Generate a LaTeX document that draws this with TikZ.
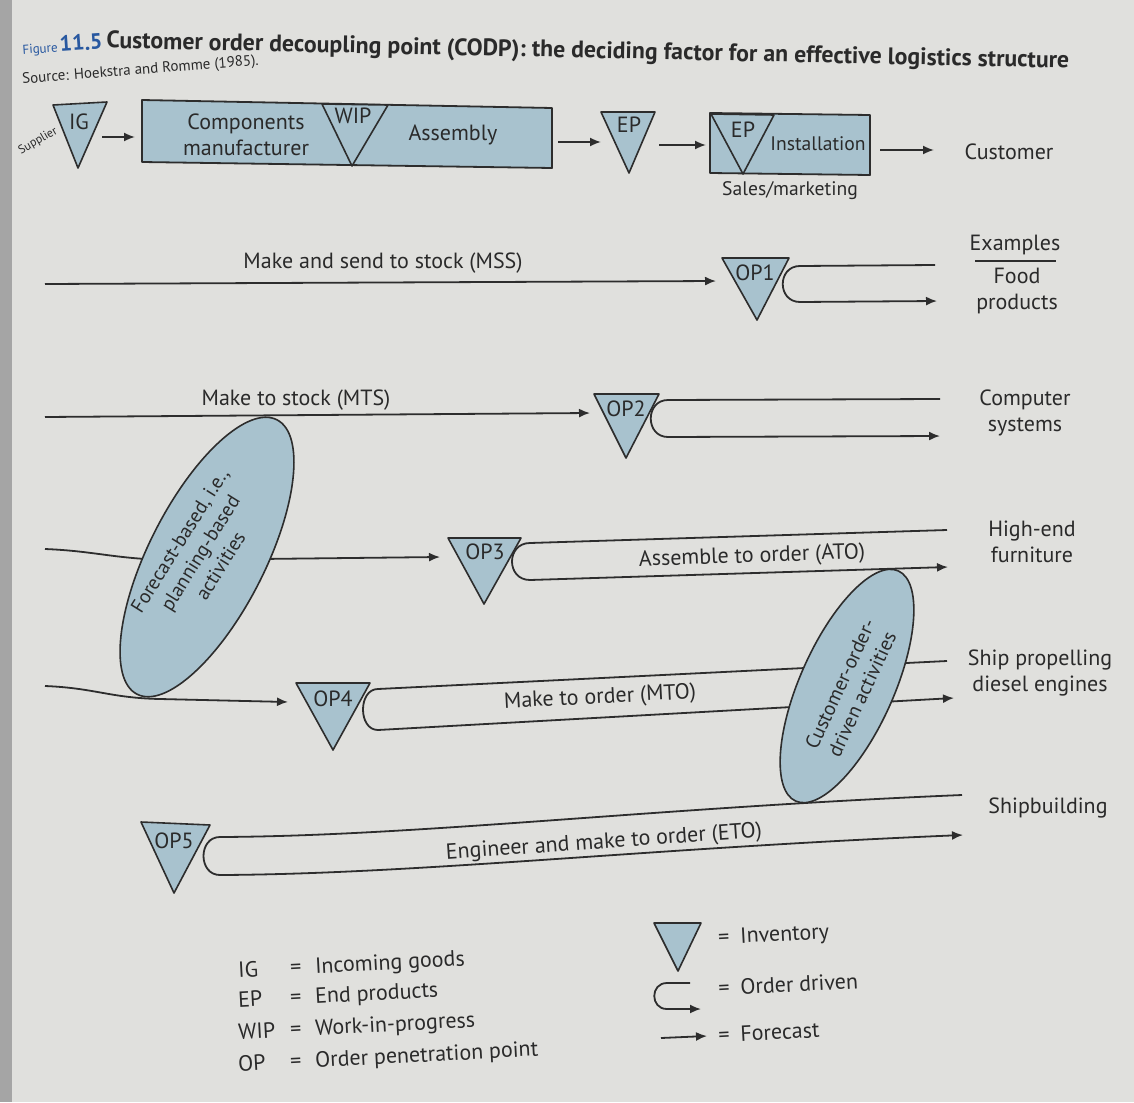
\documentclass[tikz,border=0pt]{standalone}
\usepackage{fontspec}
\setmainfont{PT Sans}
\usetikzlibrary{arrows.meta,shapes.geometric}
\definecolor{bgc}{RGB}{224,224,221}
\definecolor{edgec}{RGB}{165,165,165}
\definecolor{fillb}{RGB}{168,194,206}
\definecolor{linec}{RGB}{45,45,45}
\definecolor{txtc}{RGB}{42,42,42}
\definecolor{figblue}{RGB}{40,88,160}
\tikzset{
  tri/.style={draw=linec, fill=fillb, line width=0.8pt, line join=round},
  boxs/.style={draw=linec, fill=fillb, line width=0.9pt, line join=round},
  flow/.style={draw=linec, line width=0.9pt},
  arr/.style={flow, -{Latex[length=5.5pt,width=4.5pt]}},
  lab/.style={text=txtc, inner sep=0pt, font=\fontsize{10.5}{12.5}\selectfont},
  big/.style={lab, font=\fontsize{11}{13}\selectfont},
  blob/.style={draw=linec, fill=fillb, line width=0.8pt},
}
\begin{document}
\begin{tikzpicture}[x=0.5pt,y=-0.5pt]
\fill[bgc] (0,0) rectangle (1134,1102);
\fill[edgec] (0,0) rectangle (12,1102);
\useasboundingbox (0,0) rectangle (1134,1102);

% ---------- title ----------
\node[lab, anchor=west, rotate=4, text=figblue] (fig) at (22,48)
  {\fontsize{6.5}{7}\selectfont Figure\,\fontsize{11}{13}\selectfont\bfseries 11.5};
\node[lab, anchor=west, rotate=-1.2] (title) at (106,42)
  {\fontsize{11.9}{14}\selectfont\bfseries Customer order decoupling point (CODP): the deciding factor for an effective logistics structure};
\node[lab, anchor=west, rotate=4.5] (src) at (22,80)
  {\fontsize{7.5}{9}\selectfont Source: Hoekstra and Romme (1985).};

% ---------- top row ----------
\node[lab, rotate=30] (supp) at (38,141) {\fontsize{6}{7}\selectfont Supplier};
\draw[tri] (53,105) coordinate (ig1) -- (107,102) coordinate (ig2) -- (78,168) coordinate (ig3) -- cycle;
\node[big] (ig) at (79,122) {IG};
\coordinate (a1s) at (102,137); \coordinate (a1e) at (135,137);
\draw[arr] (a1s) -- (a1e);

\draw[boxs] (142,100) coordinate (b1tl) -- (552,108) coordinate (b1tr) -- (552,168) coordinate (b1br) -- (142,162) coordinate (b1bl) -- cycle;
\draw[tri] (322,104) -- (388,105) -- (352,166) -- cycle;
\node[big, align=center] (comp) at (246,135) {Components\\manufacturer};
\node[big] (wip) at (353,116) {WIP};
\node[big] (asm) at (453,135) {Assembly};

\coordinate (a2s) at (558,142); \coordinate (a2e) at (601,142);
\draw[arr] (a2s) -- (a2e);
\draw[tri] (601,112) -- (655,112) -- (629,173) -- cycle;
\node[big] (ep1) at (629,125) {EP};
\coordinate (a3s) at (659,145); \coordinate (a3e) at (706,145);
\draw[arr] (a3s) -- (a3e);

\draw[boxs] (710,113) -- (870,115) -- (870,175) -- (710,173) -- cycle;
\draw[tri] (711,114) -- (774,115) -- (743,174) -- cycle;
\node[big] (ep2) at (743,130) {EP};
\node[lab, font=\fontsize{9.8}{12}\selectfont] (inst) at (818,144) {Installation};
\node[lab, font=\fontsize{9.8}{12}\selectfont] (sales) at (790,191) {Sales/marketing};
\coordinate (a4s) at (880,150); \coordinate (a4e) at (934,150);
\draw[arr] (a4s) -- (a4e);
\node[big] (cust) at (1009,152) {Customer};

% ---------- MSS ----------
\node[big] (mss) at (383,263) {Make and send to stock (MSS)};
\coordinate (m1s) at (45,284); \coordinate (m1e) at (716,281);
\draw[arr] (m1s) -- (m1e);
\draw[arr] (935,265) -- (800,266) .. controls (777,266) and (777,302) .. (800,302) -- (937,301);
\draw[tri] (722,258) -- (789,258) -- (757,320) -- cycle;
\node[big] (op1) at (755,273) {OP1};
\node[big] (ex) at (1015,245) {Examples};
\draw[linec, line width=0.9pt] (975,261) -- (1056,261);
\node[big, align=center] (food) at (1017,291) {Food\\products};

% ---------- MTS ----------
\node[big] (mts) at (296,400) {Make to stock (MTS)};
\coordinate (m2s) at (45,417); \coordinate (m2e) at (590,413);
\draw[arr] (m2s) -- (m2e);
\draw[arr] (940,399) -- (668,400) .. controls (645,400) and (645,437) .. (668,437) -- (940,436);
\draw[tri] (594,394) -- (659,394) -- (626,458) -- cycle;
\node[big] (op2) at (626,409) {OP2};
\node[big, align=center] (comp2) at (1025,413) {Computer\\systems};

% ---------- ATO ----------
\draw[arr] (45,549) .. controls (95,551) and (115,559) .. (170,560) -- (440,557);
\draw[arr] (947,530) -- (530,543) .. controls (506,543) and (506,580) .. (530,580) -- (948,567);
\draw[tri] (448,538) -- (521,538) -- (484,604) -- cycle;
\node[big] (op3) at (485,552) {OP3};
\node[big, rotate=2] (ato) at (752,557) {Assemble to order (ATO)};
\node[big, align=center] (furn) at (1032,542) {High-end\\furniture};

% ---------- MTO ----------
\draw[arr] (45,686) .. controls (95,688) and (110,698) .. (160,699) -- (288,702);
\draw[arr] (947,661) -- (378,689) .. controls (358,689) and (358,730) .. (378,730) -- (954,698);
\draw[tri] (296,683) -- (370,683) -- (333,750) -- cycle;
\node[big] (op4) at (333,699) {OP4};
\node[big, rotate=3] (mto) at (600,698) {Make to order (MTO)};
\node[big, align=center] (ship) at (1040,673) {Ship propelling\\diesel engines};

% ---------- ETO ----------
\draw[arr] (962,795) .. controls (650,808) and (420,836) .. (220,837)
  .. controls (198,837) and (198,875) .. (220,875)
  .. controls (420,874) and (650,848) .. (963,835);
\draw[tri] (141,822) -- (210,825) -- (174,893) -- cycle;
\node[big] (op5) at (174,841) {OP5};
\node[big, rotate=4] (eto) at (604,843) {Engineer and make to order (ETO)};
\node[big] (sb) at (1048,808) {Shipbuilding};

% ---------- ellipses ----------
\node[blob, ellipse, minimum width=154pt, minimum height=58pt, rotate=63] (fore) at (207,557) {};
\node[lab, align=center, rotate=58, font=\fontsize{9.9}{12}\selectfont] (foret) at (200,553) {Forecast-based, i.e.,\\planning-based\\activities};
\node[blob, ellipse, minimum width=126pt, minimum height=47pt, rotate=66] (custe) at (847,686) {};
\node[lab, align=center, rotate=65, font=\fontsize{10}{12}\selectfont] (custt) at (851,689) {Customer-order-\\driven activities};

% ---------- legend ----------
\node[big, anchor=west, rotate=3] (l1) at (238,972) {\makebox[26pt][l]{IG}\makebox[12.5pt][l]{=}Incoming goods};
\node[big, anchor=west, rotate=3] (l2) at (238,1002) {\makebox[26pt][l]{EP}\makebox[12.5pt][l]{=}End products};
\node[big, anchor=west, rotate=3] (l3) at (238,1034) {\makebox[26pt][l]{WIP}\makebox[12.5pt][l]{=}Work-in-progress};
\node[big, anchor=west, rotate=3] (l4) at (238,1066) {\makebox[26pt][l]{OP}\makebox[12.5pt][l]{=}Order penetration point};

\draw[tri] (654,923) -- (701,923) -- (678,971) -- cycle;
\node[big, anchor=west, rotate=3] (r1) at (718,939) {\makebox[11pt][l]{=}Inventory};
\draw[arr] (690,983) -- (667,983) .. controls (650,983) and (650,1009) .. (667,1009) -- (701,1009);
\node[big, anchor=west, rotate=3] (r2) at (718,988) {\makebox[11pt][l]{=}Order driven};
\coordinate (fs) at (661,1038); \coordinate (fe) at (707,1036);
\draw[arr] (fs) -- (fe);
\node[big, anchor=west, rotate=3] (r3) at (718,1035) {\makebox[11pt][l]{=}Forecast};
\end{tikzpicture}
\end{document}
